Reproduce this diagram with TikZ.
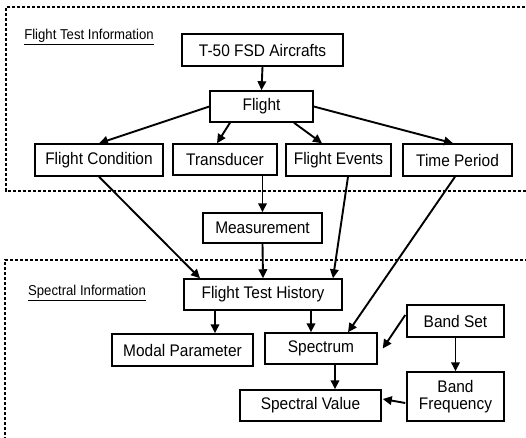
\documentclass[tikz,border=0pt]{standalone}
\usepackage{fontspec}
\setmainfont{Liberation Sans}[FakeStretch=0.92]
\usetikzlibrary{arrows.meta,calc}

\tikzset{
  entity/.style={draw, line width=1.5pt, inner sep=0pt, align=center,
    font=\fontsize{16.8}{18}\selectfont},
  arr/.style={line width=1.9pt, -{Triangle[length=9pt,width=8.5pt]}},
  group/.style={line width=1.2pt, dash pattern=on 3.3pt off 1.7pt},
  grouplabel/.style={font=\fontsize{14.3}{16}\selectfont, inner sep=0pt}
}

\begin{document}
\begin{tikzpicture}[x=1pt, y=-1pt]
  \useasboundingbox (0,0) rectangle (526,437);
  \fill[white] (0,0) rectangle (526,437);
  \clip (0,0) rectangle (526,437);

  % grouping frames (open on the right / bottom)
  \draw[group] (540,7) -- (6,7) -- (6,191) -- (540,191);
  \draw[group] (5,450) -- (5,260) -- (540,260);

  \node[grouplabel] (lblflight) at (89,37) {\underline{Flight Test Information}};
  \node[grouplabel] (lblspec) at (87,293) {\underline{Spectral Information}};

  % entities
  \node[entity, minimum width=161pt, minimum height=32pt] (t50) at (262.5,50) {T-50 FSD Aircrafts};
  \node[entity, minimum width=103pt, minimum height=31pt] (flight) at (261.5,106.5) {Flight};
  \node[entity, minimum width=128pt, minimum height=32pt] (fcond) at (99,160) {Flight Condition};
  \node[entity, minimum width=104pt, minimum height=31pt] (trans) at (225,159.5) {Transducer};
  \node[entity, minimum width=105pt, minimum height=32pt] (fevents) at (338.5,160) {Flight Events};
  \node[entity, minimum width=109pt, minimum height=32pt] (tperiod) at (457.5,160) {Time Period};
  \node[entity, minimum width=119pt, minimum height=30pt] (meas) at (262.5,228) {Measurement};
  \node[entity, minimum width=158pt, minimum height=31pt] (fth) at (263,294.5) {Flight Test History};
  \node[entity, minimum width=141pt, minimum height=32pt] (modal) at (182.5,350) {Modal Parameter};
  \node[entity, minimum width=112pt, minimum height=31pt] (spectrum) at (321,348.5) {Spectrum};
  \node[entity, minimum width=97pt, minimum height=32pt] (bandset) at (455.5,321) {Band Set};
  \node[entity, minimum width=141pt, minimum height=31pt] (specval) at (310.5,405.5) {Spectral Value};
  \node[entity, minimum width=97pt, minimum height=49pt] (bandfreq) at (455.5,396.5) {Band\\[-1pt]Frequency};

  % relations
  \draw[arr] (t50.south) -- (flight.north);
  \draw[arr] (flight.west) -- (fcond.north);
  \draw[arr] ([xshift=-31.5pt]flight.south) -- ([xshift=-8pt]trans.north);
  \draw[arr] ([xshift=32.5pt]flight.south) -- ([xshift=-16.5pt]fevents.north);
  \draw[arr] (flight.east) -- ([xshift=-4.5pt]tperiod.north);

  \draw[arr] (fcond.south) -- ([xshift=-63pt]fth.north);
  \draw[arr] (trans.south -| meas.north) -- (meas.north);
  \draw[arr] ([xshift=9.5pt]fevents.south) -- ([xshift=70pt]fth.north);
  \draw[arr] ([xshift=-2.5pt]tperiod.south) -- ([xshift=27pt]spectrum.north);
  \draw[arr] (meas.south) -- (fth.north);

  \draw[arr] ([xshift=32.5pt,yshift=2pt]modal.north |- fth.south) -- ([xshift=32.5pt]modal.north);
  \draw[arr] ([xshift=-10pt,yshift=2pt]spectrum.north |- fth.south) -- ([xshift=-10pt]spectrum.north);
  \draw[arr] ([xshift=14pt]spectrum.south) -- ([xshift=14pt]spectrum.south |- specval.north);
  \draw[arr] (bandset.south) -- (bandfreq.north);
  \draw[arr] ([xshift=-1pt,yshift=6pt]bandset.west) -- ([xshift=5pt]spectrum.east);
  \draw[arr] ([xshift=-1pt,yshift=-6.5pt]bandfreq.west) -- ([xshift=1pt,yshift=6.5pt]specval.east);
\end{tikzpicture}
\end{document}
